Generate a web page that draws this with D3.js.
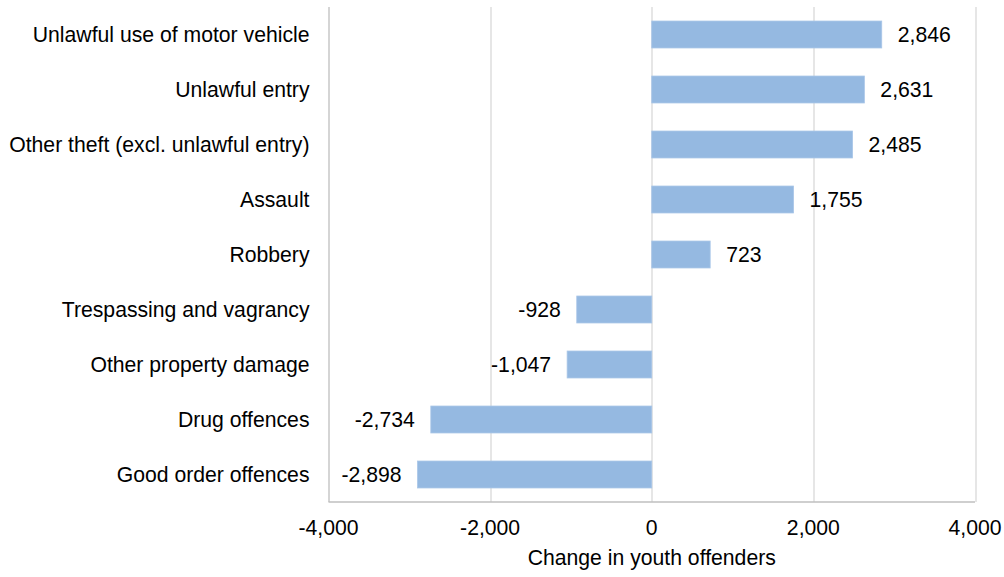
<!DOCTYPE html>
<html>
<head>
<meta charset="utf-8">
<script src="https://d3js.org/d3.v7.min.js"></script>
<style>
  body { margin: 0; background: #fff; }
  text { font-family: "Liberation Sans", Arial, sans-serif; fill: #000; }
</style>
</head>
<body>
<svg id="chart"></svg>
<script>
  var width = 1004;
  var height = 577;
  var fontSize = 21.2;

  var offences = ["Unlawful use of motor vehicle", "Unlawful entry", "Other theft (excl. unlawful entry)",
    "Assault", "Robbery", "Trespassing and vagrancy", "Other property damage", "Drug offences",
    "Good order offences"];
  var changes = [2846, 2631, 2485, 1755, 723, -928, -1047, -2734, -2898];
  var tickValues = [-4000, -2000, 0, 2000, 4000];

  var margin = {top: 7, right: 29, bottom: 75, left: 328.5};
  var plotW = width - margin.left - margin.right;
  var plotH = height - margin.top - margin.bottom;

  var svg = d3.select("#chart").attr("width", width).attr("height", height);
  var g = svg.append("g").attr("transform", "translate(" + margin.left + "," + margin.top + ")");

  var x = d3.scaleLinear().domain([-4000, 4000]).range([0, plotW]);
  var y = d3.scaleBand().domain(offences).range([0, plotH]).paddingInner(0.51).paddingOuter(0.255);
  // Excel style: plain hyphen for negatives
  var fmt = function(v) { return d3.format(",")(v).replace("\u2212", "-"); };

  // gridlines
  g.selectAll("line.grid")
    .data(tickValues)
    .enter().append("line")
    .attr("class", "grid")
    .attr("x1", function(d) { return Math.round(x(d)) + 0.5; })
    .attr("x2", function(d) { return Math.round(x(d)) + 0.5; })
    .attr("y1", 0).attr("y2", plotH)
    .attr("stroke", function(d, i) { return i == 0 ? "#bfbfbf" : "#d9d9d9"; })
    .attr("stroke-width", 1.3);

  // bottom axis line
  g.append("line")
    .attr("x1", 0).attr("x2", plotW)
    .attr("y1", plotH).attr("y2", plotH)
    .attr("stroke", "#bfbfbf").attr("stroke-width", 1.3);

  var data = offences.map(function(d, i) { return {name: d, value: changes[i]}; });

  // bars
  g.selectAll("rect.bar")
    .data(data)
    .enter().append("rect")
    .attr("class", "bar")
    .attr("x", function(d) { return x(Math.min(0, d.value)); })
    .attr("y", function(d) { return y(d.name); })
    .attr("width", function(d) { return Math.abs(x(d.value) - x(0)); })
    .attr("height", y.bandwidth())
    .attr("fill", "#95b9e1")
    .attr("stroke", "#a9c6e8").attr("stroke-width", 0.8);

  // value labels
  g.selectAll("text.value")
    .data(data)
    .enter().append("text")
    .attr("class", "value")
    .attr("x", function(d) { return d.value >= 0 ? x(d.value) + 16 : x(d.value) - 16; })
    .attr("y", function(d) { return y(d.name) + y.bandwidth() / 2; })
    .attr("dy", "0.35em")
    .attr("text-anchor", function(d) { return d.value >= 0 ? "start" : "end"; })
    .style("font-size", fontSize + "px")
    .text(function(d) { return fmt(d.value); });

  // category labels
  g.selectAll("text.cat")
    .data(offences)
    .enter().append("text")
    .attr("class", "cat")
    .attr("x", -19)
    .attr("y", function(d) { return y(d) + y.bandwidth() / 2; })
    .attr("dy", "0.35em")
    .attr("text-anchor", "end")
    .style("font-size", fontSize + "px")
    .text(function(d) { return d; });

  // x tick labels
  g.selectAll("text.tick")
    .data(tickValues)
    .enter().append("text")
    .attr("class", "tick")
    .attr("x", function(d) { return x(d); })
    .attr("y", plotH + 33)
    .attr("text-anchor", "middle")
    .style("font-size", fontSize + "px")
    .text(function(d) { return fmt(d); });

  // x axis title
  g.append("text")
    .attr("x", x(0))
    .attr("y", plotH + 63)
    .attr("text-anchor", "middle")
    .style("font-size", fontSize + "px")
    .text("Change in youth offenders");
</script>
</body>
</html>
